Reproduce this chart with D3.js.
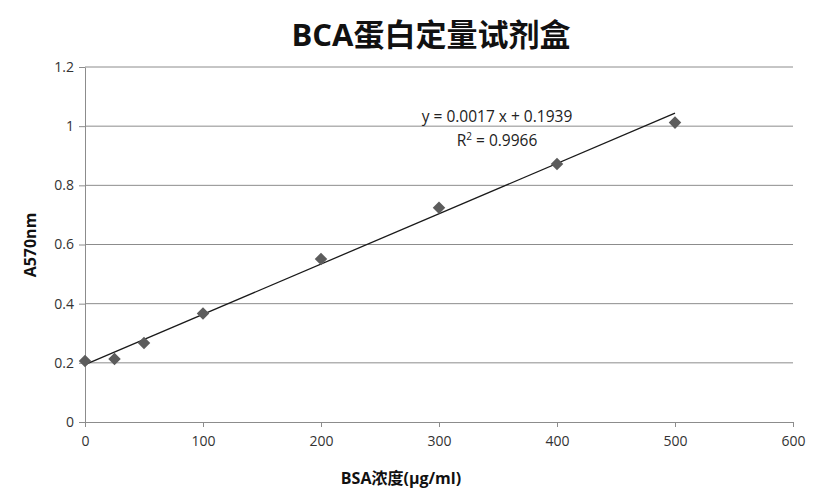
<!DOCTYPE html>
<html>
<head>
<meta charset="utf-8">
<script src="https://cdn.jsdelivr.net/npm/d3@7"></script>
<style>
  body { margin: 0; background: #fff; }
  text { font-family: "Open Sans", "Noto Sans CJK SC", sans-serif; }
</style>
</head>
<body>
<div id="chart"></div>
<script>
// BSA standard concentrations (ug/ml) and absorbance readings
const concentrations = [0, 25, 50, 100, 200, 300, 400, 500];
const absorbance = [0.206, 0.213, 0.267, 0.367, 0.551, 0.724, 0.872, 1.012];
const xTicks = [0, 100, 200, 300, 400, 500, 600];
const yTicks = [0, 0.2, 0.4, 0.6, 0.8, 1, 1.2];
const slope = 0.0017;
const intercept = 0.1939;
const rSquared = 0.9966;

const width = 833, height = 497;
const margin = { top: 67, right: 40, bottom: 75, left: 85 };

const svg = d3.select('#chart').append('svg')
  .attr('width', width)
  .attr('height', height);

const x = d3.scaleLinear().domain([0, 600]).range([margin.left, width - margin.right]);
const y = d3.scaleLinear().domain([0, 1.2]).range([height - margin.bottom, margin.top]);

// gridlines
svg.append('g')
  .selectAll('line')
  .data(yTicks.filter(d => d > 0))
  .enter().append('line')
  .attr('x1', x(0)).attr('x2', x(600))
  .attr('y1', d => y(d)).attr('y2', d => y(d))
  .attr('stroke', '#8c8c8c')
  .attr('stroke-width', 1);

const yAxis = svg.append('g')
  .attr('transform', `translate(${x(0)},0)`)
  .call(d3.axisLeft(y).tickValues(yTicks).tickSize(6).tickSizeOuter(0).tickPadding(5).tickFormat(d3.format('')));

const xAxis = svg.append('g')
  .attr('transform', `translate(0,${y(0)})`)
  .call(d3.axisBottom(x).tickValues(xTicks).tickSize(5).tickSizeOuter(0).tickPadding(9));

[xAxis, yAxis].forEach(g => {
  g.select('.domain').attr('stroke', '#8c8c8c');
  g.selectAll('.tick line').attr('stroke', '#8c8c8c');
  g.selectAll('.tick text').attr('fill', '#333').style('font-size', '14px');
});

// trendline
const fitX = [0, 500];
svg.append('line')
  .attr('x1', x(fitX[0])).attr('y1', y(slope * fitX[0] + intercept))
  .attr('x2', x(fitX[1])).attr('y2', y(slope * fitX[1] + intercept))
  .attr('stroke', '#1a1a1a')
  .attr('stroke-width', 1.3);

// points
const diamond = d3.symbol().type(d3.symbolDiamond2).size(100);
svg.append('g')
  .selectAll('path')
  .data(concentrations.map((c, i) => ({ c: c, a: absorbance[i] })))
  .enter().append('path')
  .attr('d', diamond)
  .attr('transform', d => `translate(${x(d.c)},${y(d.a)})`)
  .attr('fill', '#5c5c5c');

// equation labels
svg.append('text')
  .attr('x', 497).attr('y', 122)
  .attr('text-anchor', 'middle')
  .style('font-size', '15.5px')
  .attr('fill', '#222')
  .text(`y = ${slope.toFixed(4)} x + ${intercept.toFixed(4)}`);

const r2 = svg.append('text')
  .attr('x', 497).attr('y', 146)
  .attr('text-anchor', 'middle')
  .style('font-size', '15.5px')
  .attr('fill', '#222');
r2.append('tspan').text('R');
r2.append('tspan').attr('dy', -6).style('font-size', '10px').text('2');
r2.append('tspan').attr('dy', 6).text(` = ${rSquared.toFixed(4)}`);

// title
svg.append('text')
  .attr('x', 431).attr('y', 46)
  .attr('text-anchor', 'middle')
  .style('font-size', '31px')
  .style('font-weight', 'bold')
  .attr('fill', '#111')
  .text('BCA蛋白定量试剂盒');

// axis titles
svg.append('text')
  .attr('x', 401).attr('y', 484)
  .attr('text-anchor', 'middle')
  .style('font-size', '16px')
  .style('font-weight', 'bold')
  .attr('fill', '#111')
  .text('BSA浓度(μg/ml)');

svg.append('text')
  .attr('transform', 'translate(36,245) rotate(-90)')
  .attr('text-anchor', 'middle')
  .style('font-size', '16px')
  .style('font-weight', 'bold')
  .attr('fill', '#111')
  .text('A570nm');
</script>
</body>
</html>
